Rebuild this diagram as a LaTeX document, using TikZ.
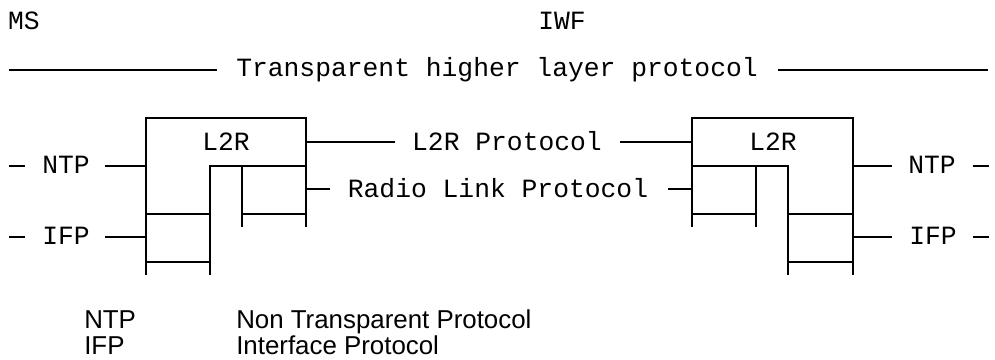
\documentclass[tikz,border=0pt]{standalone}
\usepackage{fontspec}
\setmainfont{Liberation Sans}
\setmonofont{Liberation Mono}
\begin{document}
\begin{tikzpicture}[x=0.75pt,y=-0.75pt,
  mono/.style={font=\ttfamily\fontsize{19.75}{24}\selectfont, inner sep=0pt, anchor=base},
  leg/.style={font=\fontsize{19.4}{22}\selectfont, inner sep=0pt, anchor=base west},
  ln/.style={line width=1.5pt}]
\useasboundingbox (0,0) rectangle (995,360);
% headings
\node[mono] (ms) at (24,30) {MS};
\node[mono] (iwf) at (562,30) {IWF};
% transparent higher layer protocol
\node[mono] (thlp) at (497,77) {Transparent higher layer protocol};
\coordinate (thlL) at (9,70);
\coordinate (thlR) at (988,70);
\draw[ln] (thlL) -- (217,70);
\draw[ln] (778,70) -- (thlR);
% left L2R entity
\coordinate (LA) at (146,118);
\coordinate (LB) at (306,118);
\draw[ln] (146,275) -- (LA) -- (LB) -- (306,227);
\draw[ln] (210,275) -- (210,166) -- (306,166);
\draw[ln] (242,166) -- (242,227);
\draw[ln] (146,214) -- (210,214);
\draw[ln] (242,214) -- (306,214);
\draw[ln] (146,262) -- (210,262);
\node[mono] (l2rL) at (226,150) {L2R};
% left NTP / IFP
\node[mono] (ntpL) at (66,173) {NTP};
\node[mono] (ifpL) at (66,244) {IFP};
\draw[ln] (9,166) -- (25,166);
\draw[ln] (105,166) -- (146,166);
\draw[ln] (9,237) -- (25,237);
\draw[ln] (105,237) -- (146,237);
% right L2R entity
\coordinate (RA) at (692,118);
\coordinate (RB) at (853,118);
\draw[ln] (692,227) -- (RA) -- (RB) -- (853,275);
\draw[ln] (692,166) -- (788,166) -- (788,275);
\draw[ln] (756,166) -- (756,227);
\draw[ln] (692,214) -- (756,214);
\draw[ln] (788,214) -- (853,214);
\draw[ln] (788,262) -- (853,262);
\node[mono] (l2rR) at (773,150) {L2R};
% right NTP / IFP
\node[mono] (ntpR) at (932,173) {NTP};
\node[mono] (ifpR) at (933,244) {IFP};
\draw[ln] (853,166) -- (892,166);
\draw[ln] (973,166) -- (989,166);
\draw[ln] (853,237) -- (892,237);
\draw[ln] (973,237) -- (989,237);
% peer protocols
\node[mono] (l2rp) at (507,150) {L2R Protocol};
\node[mono] (rlp) at (498,197) {Radio Link Protocol};
\draw[ln] (306,142) -- (395,142);
\draw[ln] (620,142) -- (692,142);
\draw[ln] (306,189) -- (330,189);
\draw[ln] (668,189) -- (692,189);
% legend
\node[leg] (k1) at (84,328) {NTP};
\node[leg] (v1) at (236,328) {Non Transparent Protocol};
\node[leg] (k2) at (84,354) {IFP};
\node[leg] (v2) at (236,354) {Interface Protocol};
\end{tikzpicture}
\end{document}
